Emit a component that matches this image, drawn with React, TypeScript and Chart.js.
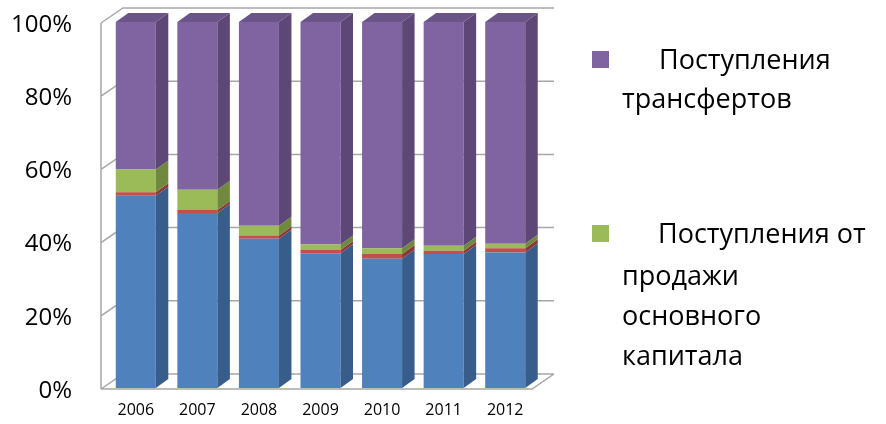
import React, { useEffect, useRef } from "react";
import { Chart, registerables } from "chart.js";

Chart.register(...registerables);

const categories = ["2006", "2007", "2008", "2009", "2010", "2011", "2012"];
const blueValues = [52.5, 47.8, 40.8, 36.8, 35.3, 36.6, 37.0];
const redValues = [1.0, 0.8, 0.9, 0.9, 1.3, 0.9, 1.2];
const greenValues = [6.2, 5.6, 2.6, 1.5, 1.6, 1.4, 1.2];
const purpleValues = [40.3, 45.8, 55.7, 60.8, 61.8, 61.1, 60.6];
const yTicks = [0, 20, 40, 60, 80, 100];
const purpleLegend = ["Поступления", "трансфертов"];
const greenLegend = ["Поступления от", "продажи", "основного", "капитала"];

const frontColors = ["#4F81BD", "#C0504D", "#9BBB59", "#8064A2"];
const sideColors = ["#385D8A", "#8C3836", "#71893F", "#5C4776"];
const topColors = ["#44709F", "#A4423F", "#84A14B", "#6B5488"];

const BDX = 12.5;
const BDY = -9;
const WDX = 22;
const WDY = -15;

const wallsPlugin = {
  id: "walls3d",
  beforeDatasetsDraw(chart: any) {
    const { ctx, chartArea } = chart;
    const ys = chart.scales.y;
    const x0 = chartArea.left - 4;
    const x1 = chartArea.right - 4;
    ctx.save();
    ctx.strokeStyle = "#A6A6A6";
    ctx.lineWidth = 1.5;
    ctx.beginPath();
    const yb = ys.getPixelForValue(0) + 1;
    const yt = ys.getPixelForValue(100) + 1;
    ctx.moveTo(x0, yb);
    ctx.lineTo(x0, yt);
    yTicks.forEach((v) => {
      const yv = ys.getPixelForValue(v) + 1;
      ctx.moveTo(x0, yv);
      ctx.lineTo(x0 + WDX, yv + WDY);
      ctx.lineTo(x1 + WDX, yv + WDY);
    });
    ctx.moveTo(x0, yb);
    ctx.lineTo(x1, yb);
    ctx.lineTo(x1 + WDX, yb + WDY);
    ctx.stroke();
    ctx.restore();
  },
};

const bars3dPlugin = {
  id: "bars3d",
  afterDatasetsDraw(chart: any) {
    const { ctx } = chart;
    const n = chart.data.datasets.length;
    ctx.save();
    for (let d = 0; d < n; d++) {
      const meta = chart.getDatasetMeta(d);
      meta.data.forEach((bar: any) => {
        const { x, y, base, width } = bar.getProps(["x", "y", "base", "width"], true);
        const left = x - width / 2;
        const right = x + width / 2;
        ctx.fillStyle = sideColors[d];
        ctx.beginPath();
        ctx.moveTo(right, y);
        ctx.lineTo(right + BDX, y + BDY);
        ctx.lineTo(right + BDX, base + BDY);
        ctx.lineTo(right, base);
        ctx.closePath();
        ctx.fill();
        if (d === n - 1) {
          ctx.fillStyle = topColors[d];
          ctx.beginPath();
          ctx.moveTo(left, y);
          ctx.lineTo(left + BDX, y + BDY);
          ctx.lineTo(right + BDX, y + BDY);
          ctx.lineTo(right, y);
          ctx.closePath();
          ctx.fill();
        }
      });
    }
    ctx.restore();
  },
};

const legendPlugin = {
  id: "sideLegend",
  afterDraw(chart: any) {
    const { ctx } = chart;
    ctx.save();
    ctx.font = '27px "Open Sans"';
    ctx.textBaseline = "alphabetic";
    ctx.textAlign = "left";
    ctx.fillStyle = frontColors[3];
    ctx.fillRect(592, 51, 17, 17);
    ctx.fillStyle = "#000";
    const p1 = [69, 108];
    purpleLegend.forEach((t, i) => {
      ctx.fillText(t, i === 0 ? 659 : 622, p1[i]);
    });
    ctx.fillStyle = frontColors[2];
    ctx.fillRect(592, 225, 17, 17);
    ctx.fillStyle = "#000";
    const p2 = [243, 285, 325, 365];
    greenLegend.forEach((t, i) => {
      ctx.fillText(t, i === 0 ? 658 : 622, p2[i]);
    });
    ctx.restore();
  },
};

export default function App() {
  const ref = useRef<HTMLCanvasElement | null>(null);
  useEffect(() => {
    if (!ref.current) return;
    const series = [blueValues, redValues, greenValues, purpleValues];
    const chart = new Chart(ref.current, {
      type: "bar",
      data: {
        labels: categories,
        datasets: series.map((vals, i) => ({
          label: i === 3 ? purpleLegend.join(" ") : i === 2 ? greenLegend.join(" ") : "",
          data: vals,
          backgroundColor: frontColors[i],
          borderWidth: 0,
          barPercentage: 0.65,
          categoryPercentage: 1,
        })),
      },
      options: {
        responsive: false,
        animation: false,
        layout: { padding: { top: 22, right: 350, bottom: 0, left: 0 } },
        plugins: { legend: { display: false }, tooltip: { enabled: false } },
        scales: {
          x: {
            stacked: true,
            grid: { display: false, drawTicks: false },
            border: { display: false },
            ticks: { font: { family: "Open Sans", size: 16 }, color: "#000", padding: 13 },
            afterFit: (s: any) => {
              s.height = 36;
              s.paddingLeft = 0;
              s.paddingRight = 0;
            },
          },
          y: {
            stacked: true,
            min: 0,
            max: 100,
            grid: { display: false, drawTicks: false },
            border: { display: false },
            ticks: {
              stepSize: 20,
              padding: 33,
              labelOffset: 3,
              font: { family: "Open Sans", size: 24 },
              color: "#000",
              callback: (v: any) => v + "%",
            },
            afterFit: (s: any) => {
              s.width = 105;
              s.paddingTop = 0;
              s.paddingBottom = 0;
            },
          },
        },
      },
      plugins: [wallsPlugin, bars3dPlugin, legendPlugin],
    });
    return () => chart.destroy();
  }, []);
  return (
    <div style={{ position: "absolute", left: 0, top: 0, width: 886, height: 424, background: "#fff" }}>
      <canvas ref={ref} width={886} height={424} style={{ width: 886, height: 424 }} />
    </div>
  );
}
